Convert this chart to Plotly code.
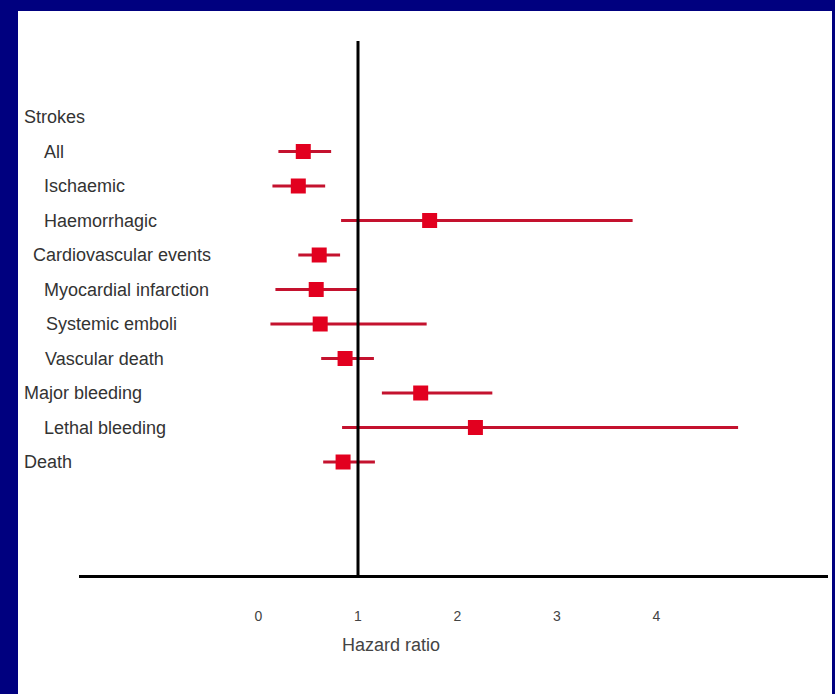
import plotly.graph_objects as go

# ---- data ----
labels = ["Strokes", "All", "Ischaemic", "Haemorrhagic", "Cardiovascular events",
          "Myocardial infarction", "Systemic emboli", "Vascular death",
          "Major bleeding", "Lethal bleeding", "Death"]
hr = [None, 0.45, 0.40, 1.72, 0.61, 0.58, 0.62, 0.87, 1.63, 2.18, 0.85]
ci_low = [None, 0.20, 0.14, 0.83, 0.40, 0.17, 0.12, 0.63, 1.24, 0.84, 0.65]
ci_high = [None, 0.73, 0.67, 3.76, 0.82, 1.01, 1.69, 1.16, 2.35, 4.82, 1.17]
tick_vals = [0, 1, 2, 3, 4]
tick_text = ["0", "1", "2", "3", "4"]
x_title = "Hazard ratio"

# label indentation (px from left edge of page)
label_x_px = [22, 42, 42, 42, 31, 42, 44, 43, 22, 42, 22]

W, H = 835, 694
L, R, T, B = 79, 7, 41, 119
pw, ph = W - L - R, H - T - B
FONT = "Liberation Sans"

rows = list(range(len(labels)))
x_idx = [i for i in rows if hr[i] is not None]

fig = go.Figure()
fig.add_trace(go.Scatter(
    x=[hr[i] for i in x_idx],
    y=[rows[i] for i in x_idx],
    mode="markers",
    marker=dict(symbol="square", size=15, color="#e2001f",
                line=dict(width=0)),
    error_x=dict(type="data", symmetric=False,
                 array=[ci_high[i] - hr[i] for i in x_idx],
                 arrayminus=[hr[i] - ci_low[i] for i in x_idx],
                 width=0, thickness=3, color="#c4122e"),
    showlegend=False, hoverinfo="skip",
))

def px_to_paper_x(px):
    return (px - L) / pw

def py_to_paper_y(py):
    return (H - B - py) / ph

# white panel
fig.add_shape(type="rect", xref="paper", yref="paper",
              x0=px_to_paper_x(18), x1=px_to_paper_x(832),
              y0=py_to_paper_y(700), y1=py_to_paper_y(11),
              fillcolor="white", line=dict(width=0), layer="below")
# reference line at HR = 1
fig.add_shape(type="line", xref="x", yref="paper", x0=1, x1=1, y0=0, y1=1,
              line=dict(color="black", width=3))

for lab, i, lx in zip(labels, rows, label_x_px):
    fig.add_annotation(text=lab, xref="paper", yref="y",
                       x=px_to_paper_x(lx), y=i, xanchor="left", yanchor="middle",
                       showarrow=False,
                       font=dict(family=FONT, size=18, color="#333333"))

fig.add_annotation(text=x_title, xref="x", yref="paper", x=1.33, y=0, yshift=-70,
                   xanchor="center", yanchor="middle", showarrow=False,
                   font=dict(family=FONT, size=18, color="#444444"))

x0 = (L - 258.5) / 99.5
x1 = (W - R - 258.5) / 99.5
y_top = (T - 117) / 34.5
y_bot = (H - B - 117) / 34.5

fig.update_layout(
    width=W, height=H,
    margin=dict(l=L, r=R, t=T, b=B),
    paper_bgcolor="#00007f",
    plot_bgcolor="rgba(0,0,0,0)",
    xaxis=dict(range=[x0, x1], tickvals=tick_vals, ticktext=tick_text,
               showgrid=False, zeroline=False, showline=True, linecolor="black",
               linewidth=3, ticks="outside", ticklen=26, tickcolor="rgba(0,0,0,0)",
               tickfont=dict(family=FONT, size=14, color="#444444"),
               fixedrange=True),
    yaxis=dict(range=[y_bot, y_top], showgrid=False, zeroline=False,
               showticklabels=False, showline=False, fixedrange=True),
)

fig.write_html("out.html")
